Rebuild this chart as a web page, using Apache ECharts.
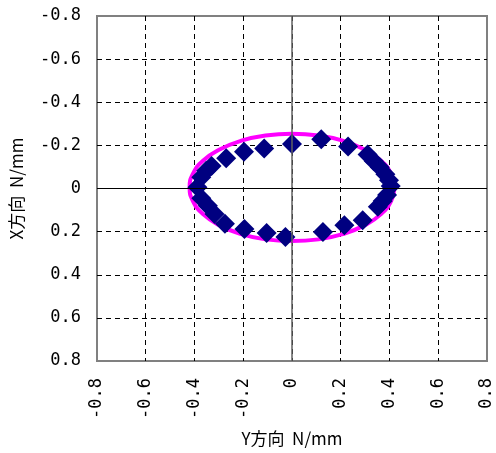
<!DOCTYPE html>
<html>
<head>
<meta charset="utf-8">
<script src="https://cdn.jsdelivr.net/npm/echarts@6/dist/echarts.min.js"></script>
<style>
html,body{margin:0;padding:0;background:#fff;}
#c{width:496px;height:453px;}
</style>
</head>
<body>
<div id="c"></div>
<script>
// Tick labels
var xTickLabels = ['-0.8','-0.6','-0.4','-0.2','0','0.2','0.4','0.6','0.8'];
var yTickLabels = ['-0.8','-0.6','-0.4','-0.2','0','0.2','0.4','0.6','0.8'];
var xAxisTitle = 'Y方向  N/mm';
var yAxisTitle = 'X方向  N/mm';

// Measured points [Y方向, X方向]
var measuredPoints = [
  [0.00, -0.206],
  [0.12, -0.228],
  [0.23, -0.195],
  [0.31, -0.158],
  [0.335, -0.128],
  [0.36, -0.098],
  [0.383, -0.066],
  [0.398, -0.038],
  [0.405, -0.012],
  [0.39, 0.030],
  [0.372, 0.058],
  [0.352, 0.085],
  [0.29, 0.147],
  [0.215, 0.171],
  [0.127, 0.202],
  [-0.027, 0.225],
  [-0.104, 0.206],
  [-0.195, 0.188],
  [-0.275, 0.163],
  [-0.318, 0.118],
  [-0.345, 0.080],
  [-0.372, 0.045],
  [-0.388, -0.006],
  [-0.372, -0.052],
  [-0.352, -0.082],
  [-0.33, -0.104],
  [-0.27, -0.140],
  [-0.197, -0.170],
  [-0.114, -0.186]
];

// Ellipse curve [Y方向, X方向]
var ellipsePoints = [
  [0.42, -0.005], [0.406, 0.059], [0.364, 0.120], [0.297, 0.171],
  [0.21, 0.211], [0.109, 0.236], [0.0, 0.244], [-0.109, 0.236],
  [-0.21, 0.211], [-0.297, 0.171], [-0.364, 0.120], [-0.406, 0.059],
  [-0.42, -0.005], [-0.406, -0.069], [-0.364, -0.130], [-0.297, -0.181],
  [-0.21, -0.221], [-0.109, -0.246], [0.0, -0.254], [0.109, -0.246],
  [0.21, -0.221], [0.297, -0.181], [0.364, -0.130], [0.406, -0.069],
  [0.42, -0.005]
];

function labelFor(arr) {
  return function (v) {
    var i = Math.round((v + 0.8) / 0.2);
    return arr[i] !== undefined ? arr[i] : '';
  };
}

var tickFont = {fontFamily: 'DejaVu Sans Mono', fontSize: 17, color: '#000'};
var titleFont = {fontFamily: 'Noto Sans CJK JP', fontSize: 17, color: '#000'};
var gridDash = {color: '#000', width: 1, type: [5, 4]};

var chart = echarts.init(document.getElementById('c'), null, {renderer: 'canvas'});
chart.setOption({
  animation: false,
  backgroundColor: '#fff',
  grid: {
    left: 96, right: 9, top: 16, bottom: 92,
    show: true, borderColor: '#808080', borderWidth: 2, backgroundColor: 'transparent'
  },
  xAxis: {
    type: 'value', min: -0.8, max: 0.8, interval: 0.2, position: 'bottom',
    axisLine: {show: false}, axisTick: {show: false},
    axisLabel: Object.assign({rotate: 90, margin: 17, formatter: labelFor(xTickLabels)}, tickFont),
    splitLine: {show: true, showMinLine: false, showMaxLine: false, lineStyle: gridDash},
    name: xAxisTitle, nameLocation: 'middle', nameGap: 69, nameTextStyle: titleFont
  },
  yAxis: {
    type: 'value', min: -0.8, max: 0.8, interval: 0.2, inverse: true,
    axisLine: {show: false}, axisTick: {show: false},
    axisLabel: Object.assign({margin: 16, formatter: labelFor(yTickLabels)}, tickFont),
    splitLine: {show: true, showMinLine: false, showMaxLine: false, lineStyle: gridDash},
    name: yAxisTitle, nameLocation: 'middle', nameGap: 72, nameTextStyle: titleFont
  },
  series: [
    {
      type: 'line', data: [], z: 1, silent: true,
      markLine: {
        silent: true, symbol: 'none', animation: false,
        label: {show: false},
        data: [
          {xAxis: 0, lineStyle: {color: '#606060', width: 1.5, type: 'solid'}},
          {yAxis: 0, lineStyle: {color: '#000', width: 1, type: 'solid'}}
        ]
      }
    },
    {
      type: 'line', data: ellipsePoints, smooth: true, showSymbol: false, z: 3,
      lineStyle: {color: '#FF00FF', width: 4}
    },
    {
      type: 'scatter', data: measuredPoints, symbol: 'diamond', symbolSize: 20, z: 4,
      itemStyle: {color: '#000080', opacity: 1}
    }
  ]
});
</script>
</body>
</html>
